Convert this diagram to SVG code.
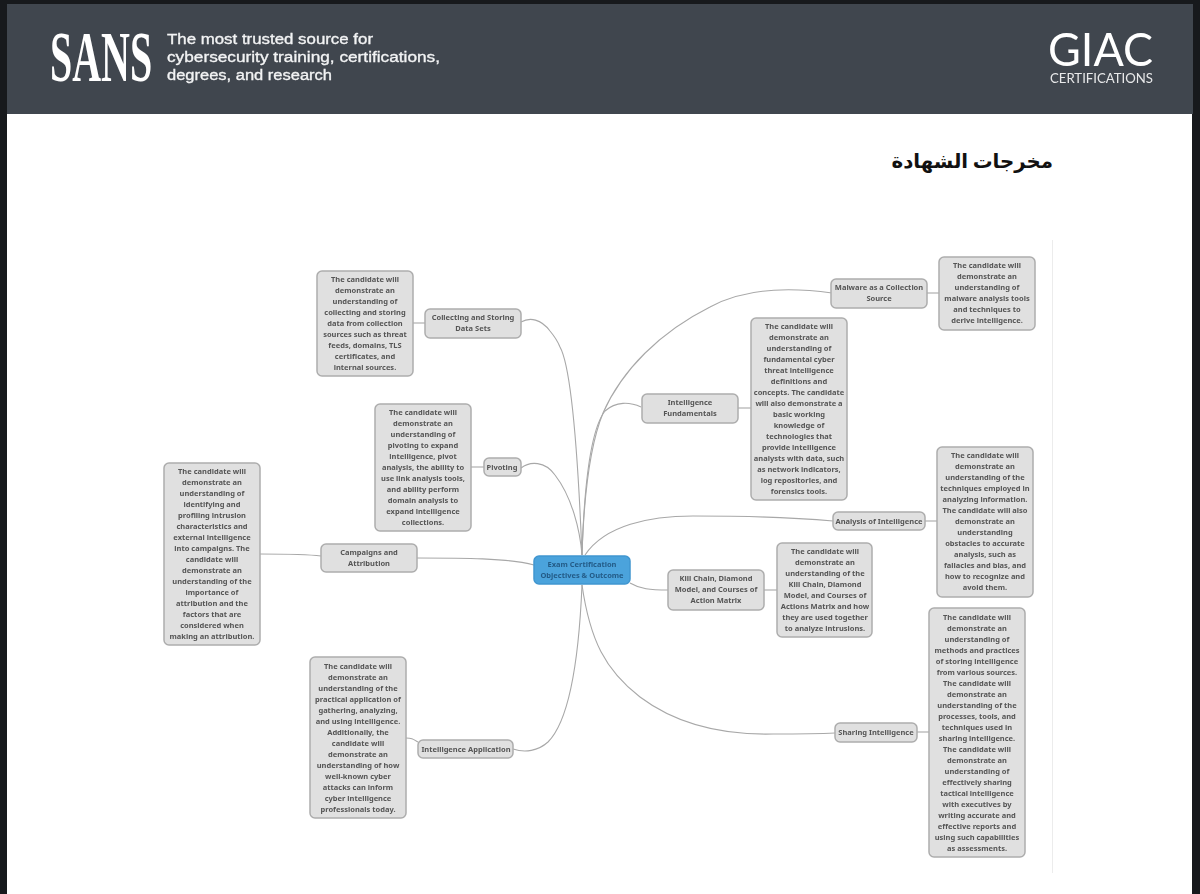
<svg xmlns="http://www.w3.org/2000/svg" width="1200" height="894" viewBox="0 0 1200 894">
<defs><filter id="soft" filterUnits="userSpaceOnUse" x="0" y="0" width="1200" height="894"><feGaussianBlur stdDeviation="0.35"/></filter></defs>
<style>
.n{fill:#e0e0e0;stroke:#adadad;stroke-width:1.5}
.c{fill:#4ba3dc;stroke:#4196d0;stroke-width:1.5}
.t{font-family:"Noto Sans","DejaVu Sans",sans-serif;font-size:7.5px;font-weight:700;fill:#555;text-anchor:middle}
.tc{fill:#245c88}
.l{fill:none;stroke:#a8a8a8;stroke-width:1.1}
.h{font-family:"Liberation Sans",sans-serif;font-size:15.4px;fill:#f2f3f4;stroke:#f2f3f4;stroke-width:0.35}
</style>
<rect width="1200" height="894" fill="#17191c"/>
<rect x="7" y="4" width="1186" height="110" fill="#40464e"/>
<rect x="7" y="114" width="1185" height="780" fill="#fff"/>
<g id="logos" filter="url(#soft)">
<text transform="translate(50 81) scale(0.555 1)" font-family="Liberation Serif,serif" font-size="72" font-weight="700" fill="#fff">SANS</text>
<text class="h" x="167" y="44" textLength="206" lengthAdjust="spacingAndGlyphs">The most trusted source for</text>
<text class="h" x="167" y="62" textLength="273" lengthAdjust="spacingAndGlyphs">cybersecurity training, certifications,</text>
<text class="h" x="167" y="80" textLength="165" lengthAdjust="spacingAndGlyphs">degrees, and research</text>
<text x="1048" y="66" font-family="Lato,sans-serif" font-size="46" fill="#fff" textLength="105" lengthAdjust="spacingAndGlyphs">GIAC</text>
<text x="1050" y="83" font-family="Lato,sans-serif" font-size="14" fill="#e8e9ea" textLength="103" lengthAdjust="spacingAndGlyphs">CERTIFICATIONS</text>
</g>
<text id="title" x="1053" y="168" direction="rtl" font-family="Noto Sans CJK SC,DejaVu Sans,sans-serif" font-size="19.800" font-weight="700" fill="#111">مخرجات الشهادة</text>
<line x1="1052.500" y1="240" x2="1052.500" y2="873" stroke="#ececec"/>
<g id="diagram" filter="url(#soft)">
<g id="connectors">
<path class="l" d="M521 322C530 317 541 319 550 331C555 337 558 342 560 347C570 365 577 430 582 555"/>
<path class="l" d="M521 468C530 461 545 461 555 475C572 497 580 530 582 555"/>
<path class="l" d="M417 558C460 558 510 558 534 565"/>
<path class="l" d="M260 554C280 554 305 554 321 556"/>
<path class="l" d="M513 749C525 753 538 751 548 742C565 725 578 680 582 585"/>
<path class="l" d="M413 323H425"/>
<path class="l" d="M471 467H484"/>
<path class="l" d="M406 738C412 738 413 739 418 742"/>
<path class="l" d="M832 293C790 287 745 288 710 307C660 332 622 370 603 413C590 445 584 490 582 555"/>
<path class="l" d="M641 407C630 402 616 401 605 411C590 430 584 490 582 555"/>
<path class="l" d="M833 521C800 518 740 516 693 516C650 516 605 525 585 555"/>
<path class="l" d="M630 583C640 589 650 590 668 590"/>
<path class="l" d="M582 585C590 640 605 670 640 697C680 727 730 735 773 734C795 734 815 734 835 733"/>
<path class="l" d="M927 293H939"/>
<path class="l" d="M738 408H751"/>
<path class="l" d="M925 521H937"/>
<path class="l" d="M764 590H777"/>
<path class="l" d="M917 732H929"/>
</g>
<g id="center"><rect class="c" x="534" y="556" width="96" height="28" rx="5"/><text class="t tc"><tspan x="582" y="567">Exam Certification</tspan><tspan x="582" y="578">Objectives &amp; Outcome</tspan></text></g>
<g id="collecting"><rect class="n" x="425" y="309" width="96" height="29" rx="5"/><text class="t"><tspan x="473" y="320">Collecting and Storing</tspan><tspan x="473" y="331">Data Sets</tspan></text></g>
<g id="collecting-d"><rect class="n" x="317" y="271" width="96" height="105" rx="5"/><text class="t"><tspan x="365" y="282">The candidate will</tspan><tspan x="365" y="293">demonstrate an</tspan><tspan x="365" y="304">understanding of</tspan><tspan x="365" y="315">collecting and storing</tspan><tspan x="365" y="326">data from collection</tspan><tspan x="365" y="337">sources such as threat</tspan><tspan x="365" y="348">feeds, domains, TLS</tspan><tspan x="365" y="359">certificates, and</tspan><tspan x="365" y="370">internal sources.</tspan></text></g>
<g id="pivoting"><rect class="n" x="484" y="458" width="37" height="18" rx="5"/><text class="t" x="502" y="470">Pivoting</text></g>
<g id="pivoting-d"><rect class="n" x="375" y="404" width="96" height="127" rx="5"/><text class="t"><tspan x="423" y="415">The candidate will</tspan><tspan x="423" y="426">demonstrate an</tspan><tspan x="423" y="437">understanding of</tspan><tspan x="423" y="448">pivoting to expand</tspan><tspan x="423" y="459">intelligence, pivot</tspan><tspan x="423" y="470">analysis, the ability to</tspan><tspan x="423" y="481">use link analysis tools,</tspan><tspan x="423" y="492">and ability perform</tspan><tspan x="423" y="503">domain analysis to</tspan><tspan x="423" y="514">expand intelligence</tspan><tspan x="423" y="525">collections.</tspan></text></g>
<g id="campaigns"><rect class="n" x="321" y="544" width="96" height="28" rx="5"/><text class="t"><tspan x="369" y="555">Campaigns and</tspan><tspan x="369" y="566">Attribution</tspan></text></g>
<g id="campaigns-d"><rect class="n" x="164" y="463" width="96" height="182" rx="5"/><text class="t"><tspan x="212" y="474">The candidate will</tspan><tspan x="212" y="485">demonstrate an</tspan><tspan x="212" y="496">understanding of</tspan><tspan x="212" y="507">identifying and</tspan><tspan x="212" y="518">profiling intrusion</tspan><tspan x="212" y="529">characteristics and</tspan><tspan x="212" y="540">external intelligence</tspan><tspan x="212" y="551">into campaigns. The</tspan><tspan x="212" y="562">candidate will</tspan><tspan x="212" y="573">demonstrate an</tspan><tspan x="212" y="584">understanding of the</tspan><tspan x="212" y="595">importance of</tspan><tspan x="212" y="606">attribution and the</tspan><tspan x="212" y="617">factors that are</tspan><tspan x="212" y="628">considered when</tspan><tspan x="212" y="639">making an attribution.</tspan></text></g>
<g id="application"><rect class="n" x="418" y="740" width="95" height="18" rx="5"/><text class="t" x="466" y="752">Intelligence Application</text></g>
<g id="application-d"><rect class="n" x="310" y="657" width="96" height="161" rx="5"/><text class="t"><tspan x="358" y="669">The candidate will</tspan><tspan x="358" y="680">demonstrate an</tspan><tspan x="358" y="691">understanding of the</tspan><tspan x="358" y="702">practical application of</tspan><tspan x="358" y="713">gathering, analyzing,</tspan><tspan x="358" y="724">and using intelligence.</tspan><tspan x="358" y="735">Additionally, the</tspan><tspan x="358" y="746">candidate will</tspan><tspan x="358" y="757">demonstrate an</tspan><tspan x="358" y="768">understanding of how</tspan><tspan x="358" y="779">well-known cyber</tspan><tspan x="358" y="790">attacks can inform</tspan><tspan x="358" y="801">cyber intelligence</tspan><tspan x="358" y="812">professionals today.</tspan></text></g>
<g id="malware"><rect class="n" x="831" y="279" width="96" height="29" rx="5"/><text class="t"><tspan x="879" y="290">Malware as a Collection</tspan><tspan x="879" y="301">Source</tspan></text></g>
<g id="malware-d"><rect class="n" x="939" y="257" width="96" height="73" rx="5"/><text class="t"><tspan x="987" y="268">The candidate will</tspan><tspan x="987" y="279">demonstrate an</tspan><tspan x="987" y="290">understanding of</tspan><tspan x="987" y="301">malware analysis tools</tspan><tspan x="987" y="312">and techniques to</tspan><tspan x="987" y="323">derive intelligence.</tspan></text></g>
<g id="fundamentals"><rect class="n" x="642" y="394" width="96" height="29" rx="5"/><text class="t"><tspan x="690" y="405">Intelligence</tspan><tspan x="690" y="416">Fundamentals</tspan></text></g>
<g id="fundamentals-d"><rect class="n" x="751" y="318" width="96" height="182" rx="5"/><text class="t"><tspan x="799" y="329">The candidate will</tspan><tspan x="799" y="340">demonstrate an</tspan><tspan x="799" y="351">understanding of</tspan><tspan x="799" y="362">fundamental cyber</tspan><tspan x="799" y="373">threat intelligence</tspan><tspan x="799" y="384">definitions and</tspan><tspan x="799" y="395">concepts. The candidate</tspan><tspan x="799" y="406">will also demonstrate a</tspan><tspan x="799" y="417">basic working</tspan><tspan x="799" y="428">knowledge of</tspan><tspan x="799" y="439">technologies that</tspan><tspan x="799" y="450">provide intelligence</tspan><tspan x="799" y="461">analysts with data, such</tspan><tspan x="799" y="472">as network indicators,</tspan><tspan x="799" y="483">log repositories, and</tspan><tspan x="799" y="494">forensics tools.</tspan></text></g>
<g id="analysis"><rect class="n" x="833" y="512" width="92" height="18" rx="5"/><text class="t" x="879" y="524">Analysis of Intelligence</text></g>
<g id="analysis-d"><rect class="n" x="937" y="447" width="96" height="150" rx="5"/><text class="t"><tspan x="985" y="458">The candidate will</tspan><tspan x="985" y="469">demonstrate an</tspan><tspan x="985" y="480">understanding of the</tspan><tspan x="985" y="491">techniques employed in</tspan><tspan x="985" y="502">analyzing information.</tspan><tspan x="985" y="513">The candidate will also</tspan><tspan x="985" y="524">demonstrate an</tspan><tspan x="985" y="535">understanding</tspan><tspan x="985" y="546">obstacles to accurate</tspan><tspan x="985" y="557">analysis, such as</tspan><tspan x="985" y="568">fallacies and bias, and</tspan><tspan x="985" y="579">how to recognize and</tspan><tspan x="985" y="590">avoid them.</tspan></text></g>
<g id="killchain"><rect class="n" x="668" y="570" width="96" height="40" rx="5"/><text class="t"><tspan x="716" y="581">Kill Chain, Diamond</tspan><tspan x="716" y="592">Model, and Courses of</tspan><tspan x="716" y="603">Action Matrix</tspan></text></g>
<g id="killchain-d"><rect class="n" x="777" y="543" width="95" height="94" rx="5"/><text class="t"><tspan x="825" y="554">The candidate will</tspan><tspan x="825" y="565">demonstrate an</tspan><tspan x="825" y="576">understanding of the</tspan><tspan x="825" y="587">Kill Chain, Diamond</tspan><tspan x="825" y="598">Model, and Courses of</tspan><tspan x="825" y="609">Actions Matrix and how</tspan><tspan x="825" y="620">they are used together</tspan><tspan x="825" y="631">to analyze intrusions.</tspan></text></g>
<g id="sharing"><rect class="n" x="835" y="723" width="82" height="19" rx="5"/><text class="t" x="876" y="735">Sharing Intelligence</text></g>
<g id="sharing-d"><rect class="n" x="929" y="608" width="96" height="249" rx="5"/><text class="t"><tspan x="977" y="620">The candidate will</tspan><tspan x="977" y="631">demonstrate an</tspan><tspan x="977" y="642">understanding of</tspan><tspan x="977" y="653">methods and practices</tspan><tspan x="977" y="664">of storing intelligence</tspan><tspan x="977" y="675">from various sources.</tspan><tspan x="977" y="686">The candidate will</tspan><tspan x="977" y="697">demonstrate an</tspan><tspan x="977" y="708">understanding of the</tspan><tspan x="977" y="719">processes, tools, and</tspan><tspan x="977" y="730">techniques used in</tspan><tspan x="977" y="741">sharing intelligence.</tspan><tspan x="977" y="752">The candidate will</tspan><tspan x="977" y="763">demonstrate an</tspan><tspan x="977" y="774">understanding of</tspan><tspan x="977" y="785">effectively sharing</tspan><tspan x="977" y="796">tactical intelligence</tspan><tspan x="977" y="807">with executives by</tspan><tspan x="977" y="818">writing accurate and</tspan><tspan x="977" y="829">effective reports and</tspan><tspan x="977" y="840">using such capabilities</tspan><tspan x="977" y="851">as assessments.</tspan></text></g>
</g>
</svg>
